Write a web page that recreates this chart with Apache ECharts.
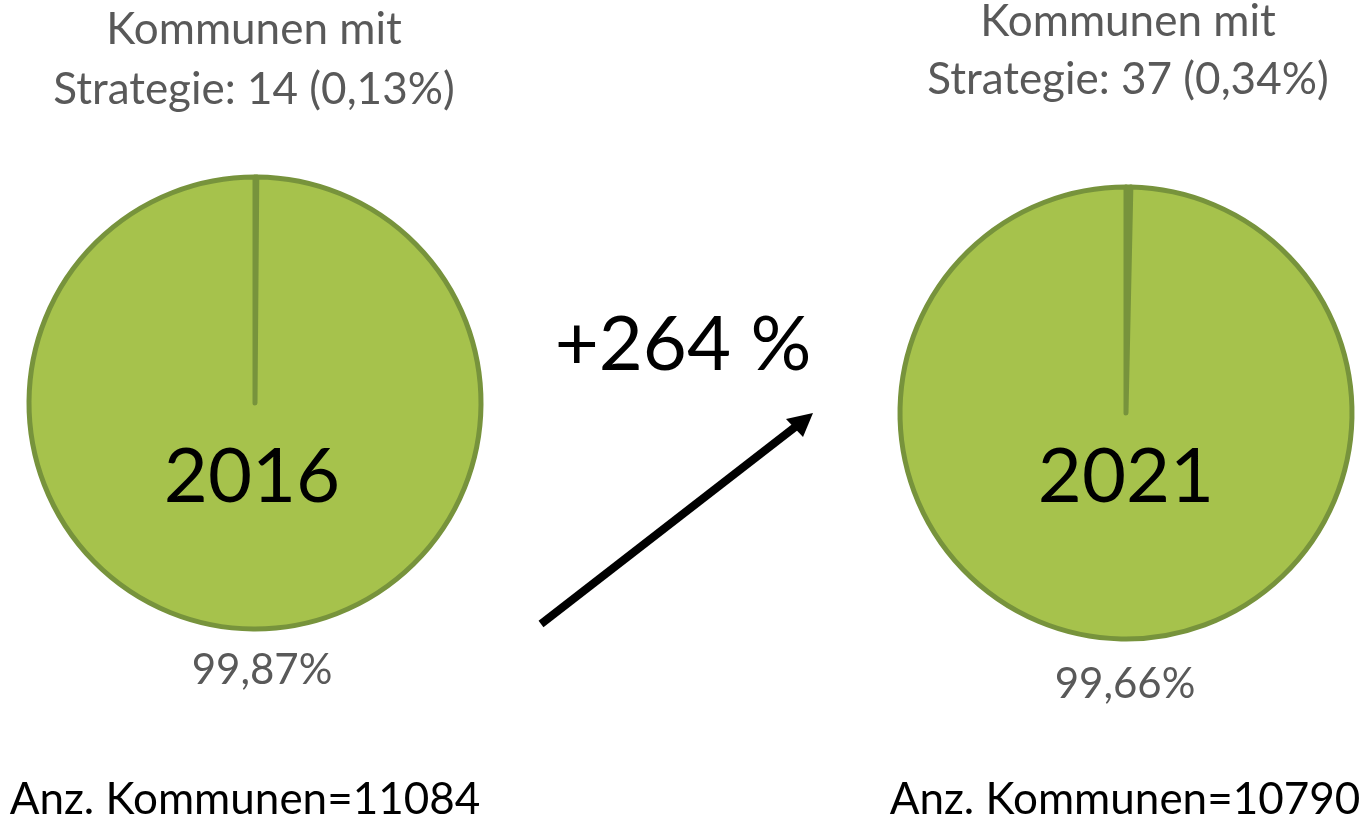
<!DOCTYPE html>
<html><head><meta charset="utf-8">
<script src="https://cdn.jsdelivr.net/npm/echarts@6/dist/echarts.min.js"></script>
<style>html,body{margin:0;padding:0;background:#fff}#c{width:1367px;height:816px}</style>
</head><body><div id="c"></div>
<script>
const years = ['2016', '2021'];
const withStrategy = [14, 37];
const totals = [11084, 10790];
const pctWith = ['0,13%', '0,34%'];
const pctWithout = ['99,87%', '99,66%'];
const changeLabel = '+264 %';

const FONT = 'Lato';
const fill = '#A6C24C';
const stroke = '#77933C';
const centers = [[255, 403], [1126, 413]];
const radius = 226;

const series = years.map((y, i) => ({
  type: 'pie',
  center: centers[i],
  radius: [0, radius],
  startAngle: 90,
  clockwise: true,
  silent: true,
  z: 2,
  label: { show: false },
  labelLine: { show: false },
  itemStyle: { color: fill, borderColor: stroke, borderWidth: 5 },
  data: [
    { name: 'Kommunen mit Strategie', value: withStrategy[i] },
    { name: 'Kommunen ohne Strategie', value: totals[i] - withStrategy[i] }
  ]
}));

const txt = (x, y, text, size, color) => ({
  type: 'text', x: x, y: y, silent: true, z: 100,
  style: { text: text, fontFamily: FONT, fontSize: size, fill: color, align: 'center', verticalAlign: 'middle' }
});

const topY = [[30, 90], [22, 80]];
const topX = [254, 1128];
const pctPos = [[262, 670], [1125, 684]];
const yearPos = [[252, 477], [1126, 477]];
const botPos = [[245, 800], [1125, 800]];

const graphics = [];
years.forEach((y, i) => {
  graphics.push(txt(topX[i], topY[i][0], 'Kommunen mit', 44, '#595959'));
  graphics.push(txt(topX[i], topY[i][1], 'Strategie: ' + withStrategy[i] + ' (' + pctWith[i] + ')', 44, '#595959'));
  graphics.push(txt(pctPos[i][0], pctPos[i][1], pctWithout[i], 42, '#595959'));
  graphics.push(txt(yearPos[i][0], yearPos[i][1], y, 76, '#000000'));
  graphics.push(txt(botPos[i][0], botPos[i][1], 'Anz. Kommunen=' + totals[i], 44, '#000000'));
});
graphics.push(txt(683, 345, changeLabel, 76, '#000000'));
graphics.push({ type: 'polyline', silent: true, z: 100, shape: { points: [[541, 624], [799, 424]] }, style: { stroke: '#000', lineWidth: 8 } });
graphics.push({ type: 'polygon', silent: true, z: 100, shape: { points: [[813, 413], [786, 419], [803, 437]] }, style: { fill: '#000' } });

const chart = echarts.init(document.getElementById('c'));
chart.setOption({
  backgroundColor: '#fff',
  animation: false,
  series: series,
  graphic: graphics
});
</script></body></html>
